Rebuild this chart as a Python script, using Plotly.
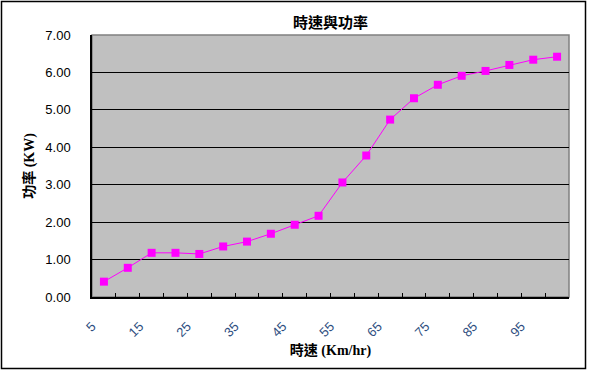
import plotly.graph_objects as go

speeds = [5, 10, 15, 20, 25, 30, 35, 40, 45, 50, 55, 60, 65, 70, 75, 80, 85, 90, 95, 100]
power = [0.41, 0.78, 1.18, 1.18, 1.15, 1.35, 1.48, 1.69, 1.93, 2.17,
         3.06, 3.78, 4.74, 5.31, 5.67, 5.91, 6.04, 6.20, 6.34, 6.42]
labeled_speeds = [5, 15, 25, 35, 45, 55, 65, 75, 85, 95]
y_ticks = [0, 1, 2, 3, 4, 5, 6, 7]

title_text = "時速與功率"
x_title = "時速 (Km/hr)"
y_title = "功率 (KW)"

step = speeds[1] - speeds[0]
half = step / 2
# category boundaries (Excel style tick marks between categories)
bounds = [s - half for s in speeds] + [speeds[-1] + half]
tick_text = []
for b in bounds:
    lab = b + half
    tick_text.append(str(int(lab)) if lab in labeled_speeds else "")

W, H = 590, 374
L, R, T, B = 92, 21, 35, 77

fig = go.Figure()
fig.add_trace(go.Scatter(
    x=speeds, y=power, mode="lines+markers",
    line=dict(color="#FF00FF", width=1),
    marker=dict(symbol="square", size=8, color="#FF00FF"),
    showlegend=False, hoverinfo="x+y",
))

serif = "'Liberation Serif', 'Noto Sans CJK TC', serif"
sans = "'Liberation Sans', Arial, sans-serif"

fig.update_layout(
    width=W, height=H,
    margin=dict(l=L, r=R, t=T, b=B, autoexpand=False),
    paper_bgcolor="white",
    plot_bgcolor="#C0C0C0",
    title=dict(text="<b>" + title_text + "</b>", x=(L + (W - R)) / 2 / W, xanchor="center",
               y=1 - 23 / H, yanchor="middle", yref="container",
               font=dict(family=serif, size=15, color="black")),
    xaxis=dict(
        automargin=False,
        range=[bounds[0], bounds[-1]],
        tickmode="array", tickvals=bounds, ticktext=tick_text,
        ticks="inside", ticklen=4, tickcolor="black", tickwidth=1,
        tickangle=-45, ticklabelstandoff=15,
        tickfont=dict(family=sans, size=13, color="#2f4f7f"),
        showgrid=False, zeroline=False,
        showline=True, linecolor="black", linewidth=1.5,
        title=dict(text="<b>" + x_title + "</b>", standoff=6,
                   font=dict(family=serif, size=14, color="black")),
    ),
    yaxis=dict(
        automargin=False,
        range=[0, 7], tickmode="array", tickvals=y_ticks,
        ticktext=[f"{v:.2f}" for v in y_ticks],
        ticks="", ticklabelstandoff=17,
        tickfont=dict(family=sans, size=13, color="black"),
        showgrid=True, gridcolor="black", gridwidth=1.2,
        zeroline=False,
        showline=True, linecolor="black", linewidth=1.5,
        title=dict(text="<b>" + y_title + "</b>", standoff=7,
                   font=dict(family=serif, size=14, color="black")),
    ),
    shapes=[
        dict(type="rect", xref="paper", yref="paper", x0=0, x1=1, y0=0, y1=1,
             line=dict(color="#808080", width=1.5), layer="below"),
        dict(type="rect", xref="paper", yref="paper",
             x0=(1.5 - L) / (W - L - R), x1=(585.5 - L) / (W - L - R),
             y0=(H - B - 368.5) / (H - T - B), y1=(H - B - 1.5) / (H - T - B),
             line=dict(color="black", width=1.5), layer="below"),
    ],
)

fig.write_html("out.html", config={"displayModeBar": False},
               post_script="document.body.style.margin='0';")
